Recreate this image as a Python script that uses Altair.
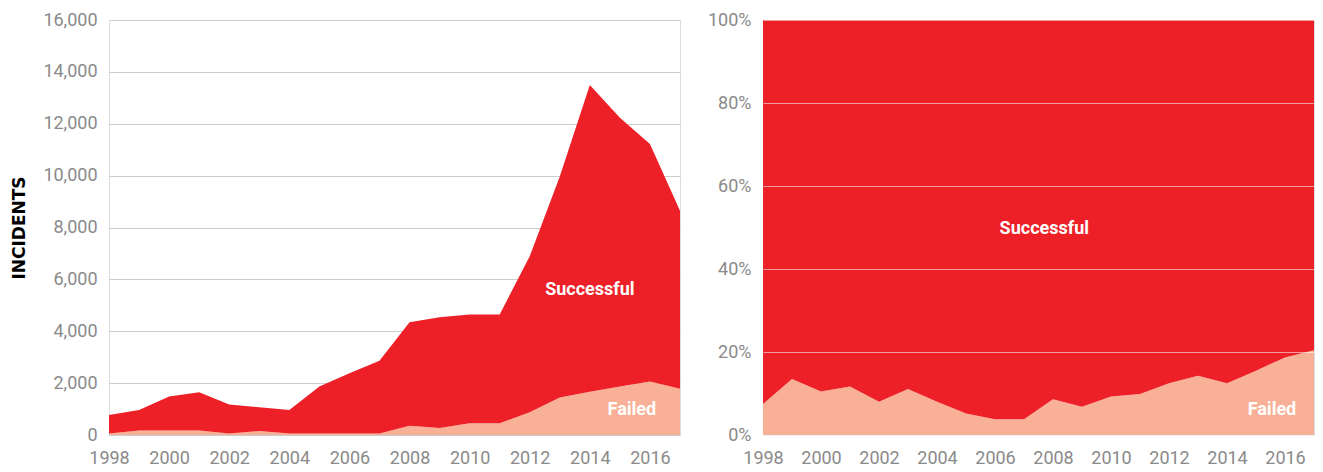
import altair as alt
import pandas as pd

years = list(range(1998, 2018))
failed = [60, 170, 170, 170, 60, 150, 60, 60, 60, 60, 360, 270, 450, 450, 875, 1450, 1670, 1870, 2060, 1780]
total = [770, 965, 1480, 1650, 1180, 1070, 965, 1870, 2380, 2860, 4350, 4540, 4650, 4650, 6890, 9970, 13490, 12230, 11220, 8650]
failed_pct = [7.5, 13.5, 10.5, 11.7, 8.0, 11.1, 8.0, 5.2, 3.8, 3.8, 8.6, 6.8, 9.3, 9.9, 12.5, 14.3, 12.5, 15.5, 18.7, 20.4]

successful = [t - f for t, f in zip(total, failed)]
successful_pct = [100 - p for p in failed_pct]

RED = "#ED1F27"
SALMON = "#F8B097"
GRAY = "#8a8a8a"
FONT = "Roboto"

rows_abs, rows_pct = [], []
for i, y in enumerate(years):
    rows_abs.append({"year": y, "status": "Failed", "order": 0, "value": failed[i]})
    rows_abs.append({"year": y, "status": "Successful", "order": 1, "value": successful[i]})
    rows_pct.append({"year": y, "status": "Failed", "order": 0, "value": failed_pct[i] / 100})
    rows_pct.append({"year": y, "status": "Successful", "order": 1, "value": successful_pct[i] / 100})
df_abs = pd.DataFrame(rows_abs)
df_pct = pd.DataFrame(rows_pct)

x_ticks = list(range(1998, 2017, 2))

color = alt.Color("status:N", scale=alt.Scale(domain=["Failed", "Successful"], range=[SALMON, RED]), legend=None)

x_enc = alt.X("year:Q", scale=alt.Scale(domain=[1998, 2017], nice=False, zero=False),
              axis=alt.Axis(values=x_ticks, format="d", title=None, grid=False, ticks=False, domain=False,
                            labelPadding=14, labelColor=GRAY, labelFontSize=18, labelFont=FONT,
                            labelFlush=False, labelOverlap=False))

left_area = alt.Chart(df_abs).mark_area(opacity=1).encode(
    x=x_enc,
    y=alt.Y("value:Q", stack="zero", scale=alt.Scale(domain=[0, 16000]),
            axis=alt.Axis(values=list(range(0, 16001, 2000)), format=",d", title="INCIDENTS",
                          titleFont="DejaVu Sans", titleFontWeight="bold", titleFontSize=17,
                          titleColor="#000000",
                          titlePadding=14, grid=True, gridColor="#cccccc", gridWidth=1,
                          ticks=False, domain=False, labelPadding=12, labelColor=GRAY,
                          labelFontSize=18, labelFont=FONT)),
    color=color,
    order=alt.Order("order:Q"),
)

lab_left = pd.DataFrame({"year": [2014.0, 2015.4], "value": [5600, 960], "label": ["Successful", "Failed"]})
left_text = alt.Chart(lab_left).mark_text(color="white", fontWeight="bold", fontSize=18, font=FONT).encode(
    x="year:Q", y="value:Q", text="label:N")

left = alt.layer(left_area, left_text).properties(width=571, height=415)

right_area = alt.Chart(df_pct).mark_area(opacity=1).encode(
    x=x_enc,
    y=alt.Y("value:Q", stack="zero", scale=alt.Scale(domain=[0, 1]),
            axis=alt.Axis(values=[0, 0.2, 0.4, 0.6, 0.8, 1.0], format=".0%", title=None,
                          grid=True, gridColor="#ffffff", gridOpacity=0.55, gridWidth=1, zindex=1,
                          ticks=False, domain=False, labelPadding=12, labelColor=GRAY,
                          labelFontSize=18, labelFont=FONT)),
    color=color,
    order=alt.Order("order:Q"),
)

lab_right = pd.DataFrame({"year": [2007.7, 2015.55], "value": [0.496, 0.06], "label": ["Successful", "Failed"]})
right_text = alt.Chart(lab_right).mark_text(color="white", fontWeight="bold", fontSize=18, font=FONT).encode(
    x="year:Q", y="value:Q", text="label:N")

right = alt.layer(right_area, right_text).properties(width=551, height=415)

chart = alt.hconcat(left, right, spacing=25).properties(
    padding={"top": 2, "left": 2, "right": 0, "bottom": 0}
).configure_view(stroke=None).configure(background="white")

chart.save("out.html", embed_options={"renderer": "svg", "actions": False})
